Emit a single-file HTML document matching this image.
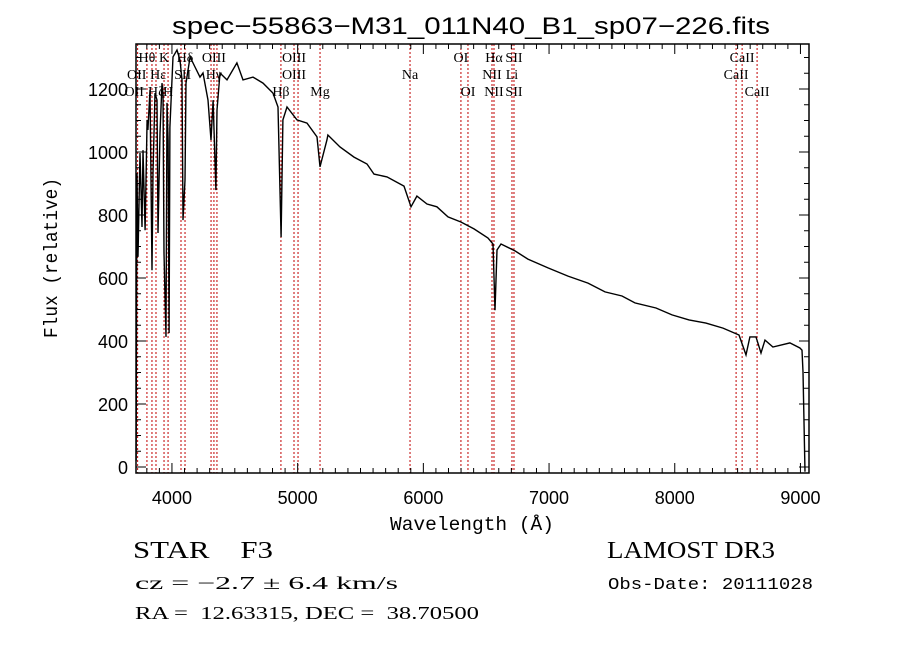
<!DOCTYPE html>
<html><head><meta charset="utf-8"><style>
html,body{margin:0;padding:0;background:#fff;}
svg{display:block;}
text{fill:#000;white-space:pre;}
</style></head><body>
<svg id="chart" width="900" height="649" viewBox="0 0 900 649" xmlns="http://www.w3.org/2000/svg" xml:space="preserve">
<rect x="0" y="0" width="900" height="649" fill="#fff"/>
<text x="471" y="34" text-anchor="middle" font-family="Liberation Sans, sans-serif" font-size="24" textLength="598" lengthAdjust="spacingAndGlyphs">spec−55863−M31_011N40_B1_sp07−226.fits</text>
<g id="lines"></g>
<g id="labels"></g>
<g id="series"></g>
<g id="axes"></g>
<text x="472" y="530" text-anchor="middle" font-family="Liberation Mono, monospace" font-size="19" textLength="164" lengthAdjust="spacingAndGlyphs">Wavelength (Å)</text>
<text transform="translate(57,258) rotate(-90)" text-anchor="middle" font-family="Liberation Mono, monospace" font-size="19" textLength="160" lengthAdjust="spacingAndGlyphs">Flux (relative)</text>
<text x="133" y="558" font-family="Liberation Serif, serif" font-size="24" textLength="140" lengthAdjust="spacingAndGlyphs">STAR    F3</text>
<text x="607" y="558" font-family="Liberation Serif, serif" font-size="24" textLength="168" lengthAdjust="spacingAndGlyphs">LAMOST DR3</text>
<text x="135" y="589" font-family="Liberation Serif, serif" font-size="18" textLength="263" lengthAdjust="spacingAndGlyphs">cz = −2.7 ± 6.4 km/s</text>
<text x="608" y="589" font-family="Liberation Mono, monospace" font-size="17" textLength="205" lengthAdjust="spacingAndGlyphs">Obs-Date: 20111028</text>
<text x="135" y="619" font-family="Liberation Serif, serif" font-size="18" textLength="344" lengthAdjust="spacingAndGlyphs">RA =  12.63315, DEC =  38.70500</text>
</svg>
<script>
const wavelengths = [3715,3722,3730,3746,3762,3770,3786,3802,3809,3825,3841,3849,3865,3881,3889,3905,3921,3929,3937,3953,3961,3969,3977,3984,4008,4040,4064,4080,4088,4104,4112,4144,4183,4223,4247,4287,4311,4327,4350,4358,4382,4438,4517,4565,4645,4724,4804,4844,4868,4883,4915,4995,5074,5154,5178,5233,5241,5337,5448,5552,5607,5711,5846,5902,5949,6029,6108,6196,6299,6403,6514,6554,6570,6586,6618,6729,6832,6992,7151,7310,7445,7580,7683,7851,7978,8113,8248,8384,8511,8567,8598,8646,8686,8718,8781,8916,8996,9012,9020,9036];
const fluxes = [20,933,667,997,762,1006,752,1102,1070,1197,625,933,1187,1165,743,1060,1219,1187,679,413,1156,1038,425,1079,1302,1324,1292,1229,784,911,1219,1302,1270,1238,1251,1165,1038,1165,879,1133,1251,1229,1283,1229,1238,1219,1187,1143,730,1102,1143,1102,1092,1048,953,1038,1054,1016,984,962,930,921,892,826,860,835,826,794,778,756,727,708,498,689,708,686,660,632,606,584,556,543,521,505,483,467,457,441,419,356,413,413,362,403,381,394,378,371,302,-15];
const lineWaves = [3727,3801,3841,3873,3937,3969,4072,4104,4311,4334,4358,4867,4971,5003,5178,5894,6299,6355,6546,6562,6705,6721,8488,8536,8655];
const labelTexts = ["Hθ","K","Hδ","OIII","OIII","OI","Hα","SII","CaII","OII","Hε","SII","Hγ","OIII","Na","NII","Li","CaII","OII","Hζ","H","Hβ","Mg","OI","NII","SII","CaII"];
const labelWaves = [3801,3937,4104,4334,4971,6299,6562,6721,8536,3720,3890,4085,4334,4971,5894,6546,6705,8488,3700,3873,3969,4867,5178,6355,6562,6721,8655];
const labelRows = [0,0,0,0,0,0,0,0,0,1,1,1,1,1,1,1,1,1,2,2,2,2,2,2,2,2,2];
const xTicks = [4000,5000,6000,7000,8000,9000];
const yTicks = [0,200,400,600,800,1000,1200];

const NS="http://www.w3.org/2000/svg";
const L=136,R=809,T=44,B=473, XMIN=3714, XMAX=9068, YMIN=-19, YMAX=1343;
function xs(v){return L+(v-XMIN)/(XMAX-XMIN)*(R-L);}
function ys(v){return B-(v-YMIN)/(YMAX-YMIN)*(B-T);}
function mk(tag,parent){const e=document.createElementNS(NS,tag);parent.appendChild(e);return e;}

const gl=document.getElementById('lines');
lineWaves.forEach(w=>{
  const l=mk('line',gl);
  
  
  l.setAttribute('x1',xs(w));l.setAttribute('x2',xs(w));l.setAttribute('y1',T);l.setAttribute('y2',B);
  l.setAttribute('stroke','#c00000');l.setAttribute('stroke-width','1');l.setAttribute('stroke-dasharray','2,2');
});
const glab=document.getElementById('labels');
labelTexts.forEach((t,i)=>{
  const e=mk('text',glab);
  
  
  e.setAttribute('x',xs(labelWaves[i]));e.setAttribute('y',62+labelRows[i]*17);
  e.setAttribute('text-anchor','middle');e.setAttribute('font-family','Liberation Serif, serif');e.setAttribute('font-size','14');
  e.textContent=t;
});
const gs=document.getElementById('series');
let d='';
wavelengths.forEach((w,i)=>{d+=(i?'L':'M')+xs(w).toFixed(1)+','+Math.min(B,ys(fluxes[i])).toFixed(1);});
const p=mk('path',gs);


p.setAttribute('d',d);p.setAttribute('fill','none');p.setAttribute('stroke','#000');p.setAttribute('stroke-width','1.4');

const ga=document.getElementById('axes');
const fr=mk('rect',ga);


fr.setAttribute('x',L);fr.setAttribute('y',T);fr.setAttribute('width',R-L);fr.setAttribute('height',B-T);
fr.setAttribute('fill','none');fr.setAttribute('stroke','#000');fr.setAttribute('stroke-width','1.5');
let td='';
for(let w=3800;w<=XMAX;w+=100){const x=xs(w);const len=(w%1000===0)?10:5;td+=`M${x},${B}v${-len}M${x},${T}v${len}`;}
for(let v=0;v<=YMAX;v+=50){const y=ys(v);const len=(v%200===0)?10:5;td+=`M${L},${y}h${len}M${R},${y}h${-len}`;}
const tk=mk('path',ga);


tk.setAttribute('d',td);tk.setAttribute('stroke','#000');tk.setAttribute('stroke-width','1');
xTicks.forEach(v=>{
  const e=mk('text',ga);
  
  
  e.setAttribute('x',xs(v));e.setAttribute('y',504);e.setAttribute('text-anchor','middle');
  e.setAttribute('font-family','Liberation Sans, sans-serif');e.setAttribute('font-size','18');
  e.textContent=v;
});
yTicks.forEach(v=>{
  const e=mk('text',ga);
  
  
  e.setAttribute('x',128);e.setAttribute('y',ys(v)+7);e.setAttribute('text-anchor','end');
  e.setAttribute('font-family','Liberation Sans, sans-serif');e.setAttribute('font-size','18');
  e.textContent=v;
});
</script>
</body></html>
